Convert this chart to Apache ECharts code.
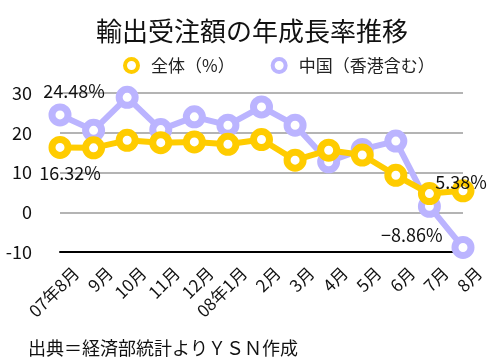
<!DOCTYPE html>
<html>
<head>
<meta charset="utf-8">
<script src="https://cdn.jsdelivr.net/npm/echarts@6/dist/echarts.min.js"></script>
<style>
html,body{margin:0;padding:0;background:#fff;}
#c{width:504px;height:364px;}
</style>
</head>
<body>
<div id="c"></div>
<script>
const categories = ['07年8月','9月','10月','11月','12月','08年1月','2月','3月','4月','5月','6月','7月','8月'];
const totalValues = [16.32, 16.2, 18.1, 17.5, 17.7, 17.1, 18.3, 13.1, 15.6, 14.4, 9.3, 4.7, 5.38];
const chinaValues = [24.48, 20.6, 28.9, 20.8, 24.0, 21.9, 26.5, 21.9, 12.7, 15.8, 17.9, 1.5, -8.86];
const seriesNames = ['全体（%）', '中国（香港含む）'];
const titleText = '輸出受注額の年成長率推移';
const sourceText = '出典＝経済部統計よりＹＳＮ作成';

const FONT = '"Noto Sans CJK JP", "Noto Sans", sans-serif';
const YELLOW = '#FFCC00';
const PURPLE = '#BBB4FF';

function fmt(v){ return (v < 0 ? '\u2212' + Math.abs(v).toFixed(2) : v.toFixed(2)) + '%'; }

function buildData(vals, firstLabel, lastLabel){
  return vals.map((v, i) => {
    if (i === 0 && firstLabel) return {value: v, label: Object.assign({show: true, formatter: fmt(v)}, firstLabel)};
    if (i === vals.length - 1 && lastLabel) return {value: v, label: Object.assign({show: true, formatter: fmt(v)}, lastLabel)};
    return v;
  });
}

const labelStyle = {color: '#111', fontSize: 18, fontFamily: FONT};

const chart = echarts.init(document.getElementById('c'), null, {renderer: 'canvas'});
chart.setOption({
  animation: false,
  title: {
    text: titleText, left: 'center', top: 13,
    textStyle: {fontSize: 26, fontWeight: 'normal', color: '#111', fontFamily: FONT}
  },
  legend: {
    top: 52, left: 118, itemGap: 36, itemWidth: 13, itemHeight: 13,
    textStyle: {fontSize: 17, color: '#222', fontFamily: FONT, padding: [0, 0, 0, 8]},
    data: [
      {name: seriesNames[0], icon: 'circle', itemStyle: {color: '#fff', borderColor: YELLOW, borderWidth: 4}},
      {name: seriesNames[1], icon: 'circle', itemStyle: {color: '#fff', borderColor: PURPLE, borderWidth: 4}}
    ]
  },
  graphic: [{
    type: 'text', left: 28, top: 339,
    style: {text: sourceText, fontSize: 18, fill: '#111', fontFamily: FONT}
  }],
  grid: [
    {left: 60, right: 41, top: 93, bottom: 112},
    {left: 76, right: 25, top: 93, bottom: 112}
  ],
  xAxis: [{
    type: 'category', data: categories, boundaryGap: false, gridIndex: 0,
    axisLine: {show: true, onZero: false, lineStyle: {color: '#000', width: 2}},
    axisTick: {show: false},
    axisLabel: {show: false},
    splitLine: {show: false}
  }, {
    type: 'category', data: categories, boundaryGap: false, gridIndex: 1,
    axisLine: {show: false, onZero: false}, axisTick: {show: false},
    axisLabel: {show: true, interval: 0, rotate: 45, margin: 18, fontSize: 17, color: '#111', fontFamily: FONT},
    splitLine: {show: false}
  }],
  yAxis: [{
    type: 'value', min: -10, max: 30, interval: 10, gridIndex: 0,
    axisLine: {show: false}, axisTick: {show: false},
    axisLabel: {margin: 28, fontSize: 18, color: '#111', fontFamily: FONT},
    splitLine: {show: true, lineStyle: {color: '#b4b4b4', width: 2}}
  }, {
    type: 'value', min: -10, max: 30, interval: 10, gridIndex: 1, show: false
  }],
  series: [
    {
      name: seriesNames[1], type: 'line', xAxisIndex: 0, yAxisIndex: 0,
      data: buildData(chinaValues,
        Object.assign({position: 'top', offset: [14, 2]}, labelStyle),
        Object.assign({position: 'left', offset: [-4, -12]}, labelStyle)),
      symbol: 'circle', symbolSize: 16,
      itemStyle: {color: '#fff', borderColor: PURPLE, borderWidth: 7},
      lineStyle: {color: PURPLE, width: 6},
      z: 2
    },
    {
      name: seriesNames[0], type: 'line', xAxisIndex: 0, yAxisIndex: 0,
      data: buildData(totalValues,
        Object.assign({position: 'bottom', offset: [10, 0]}, labelStyle),
        Object.assign({position: 'top', offset: [-2, 17]}, labelStyle)),
      symbol: 'circle', symbolSize: 16,
      itemStyle: {color: '#fff', borderColor: YELLOW, borderWidth: 7},
      lineStyle: {color: YELLOW, width: 6},
      z: 3
    }
  ]
});
</script>
</body>
</html>
